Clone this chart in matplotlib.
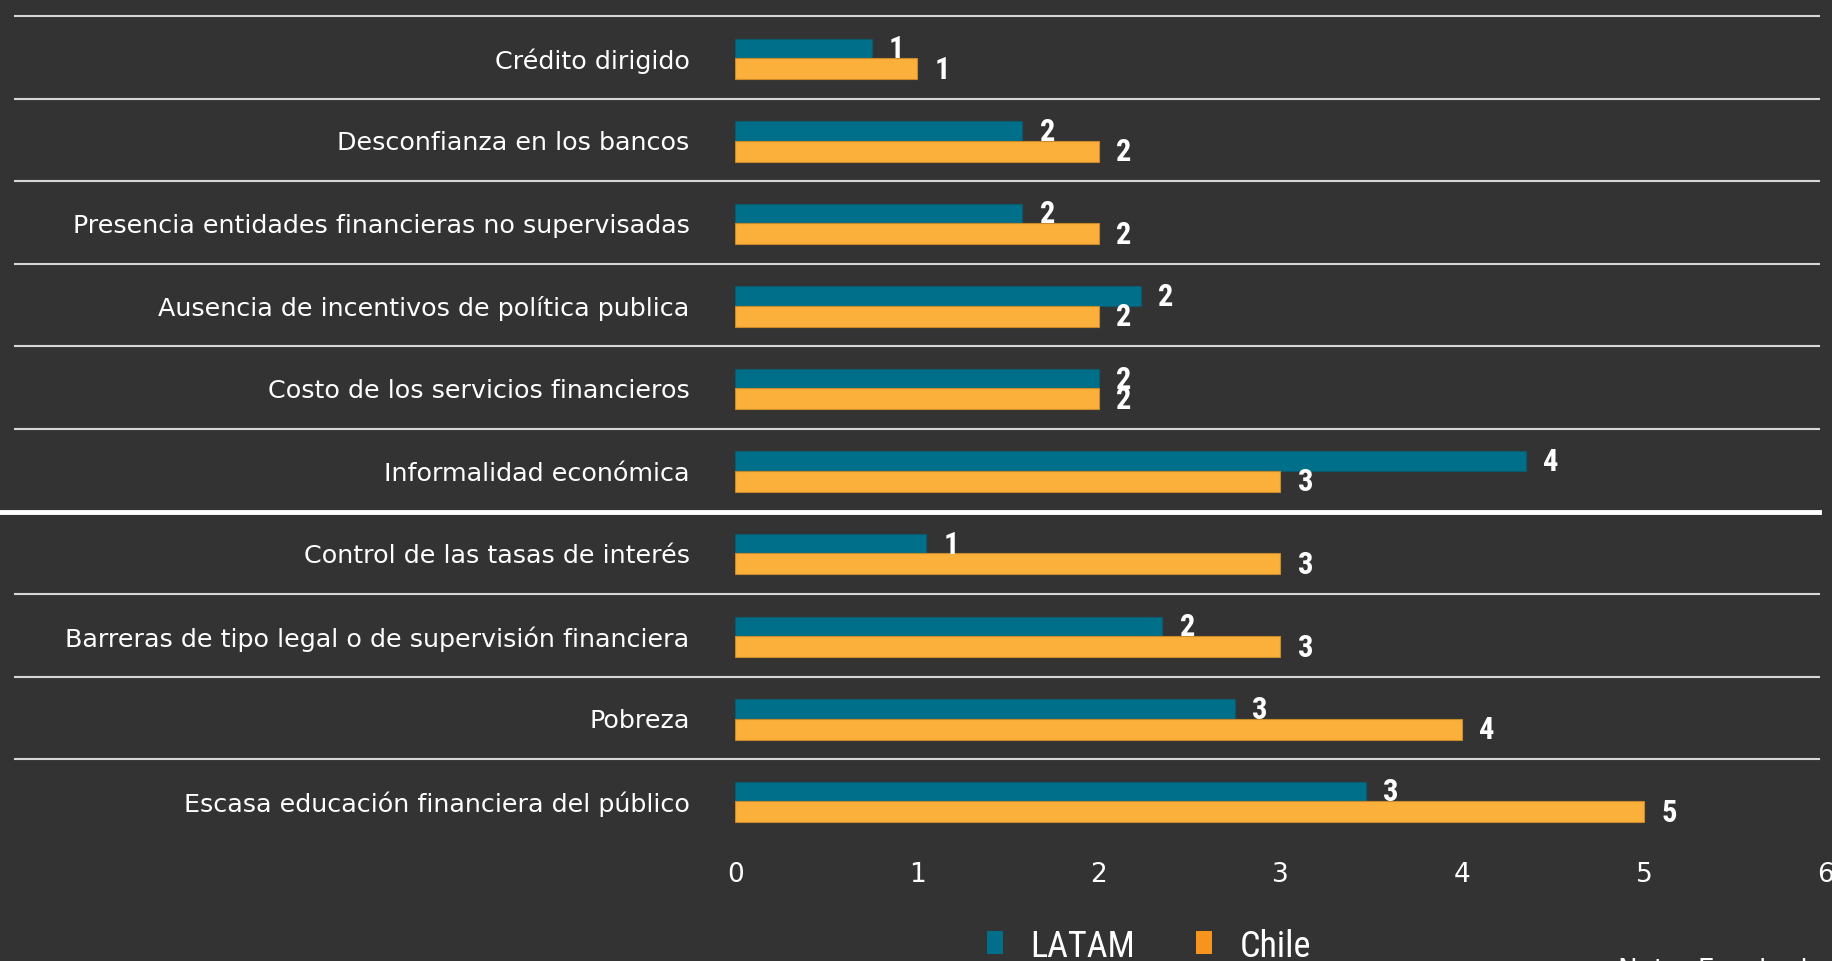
import matplotlib
matplotlib.use("Agg")
import matplotlib.pyplot as plt
import numpy as np
from matplotlib.patches import Patch
from matplotlib.transforms import blended_transform_factory
from matplotlib import font_manager

categories = [
    "Crédito dirigido",
    "Desconfianza en los bancos",
    "Presencia entidades financieras no supervisadas",
    "Ausencia de incentivos de política publica",
    "Costo de los servicios financieros",
    "Informalidad económica",
    "Control de las tasas de interés",
    "Barreras de tipo legal o de supervisión financiera",
    "Pobreza",
    "Escasa educación financiera del público",
]
latam = [0.75, 1.58, 1.58, 2.23, 2.0, 4.35, 1.05, 2.35, 2.75, 3.47]
chile = [1.0, 2.0, 2.0, 2.0, 2.0, 3.0, 3.0, 3.0, 4.0, 5.0]
series_names = ["LATAM", "Chile"]
xticks = [0, 1, 2, 3, 4, 5, 6]
note_text = "Nota: Escala de 1 a 6"

BG = "#333333"
C_LATAM = "#00708A"
C_CHILE = "#FBB03B"
C_CHILE_LEG = "#F7941D"

installed = {f.name for f in font_manager.fontManager.ttflist}
cands = ["Roboto Condensed", "Liberation Sans Narrow", "Open Sans Condensed", "Roboto", "DejaVu Sans"]
NARROW = [c for c in cands if c in installed] or ["DejaVu Sans"]

fig = plt.figure(figsize=(18.32, 9.62), dpi=100, facecolor=BG)
ax = fig.add_axes([0.4014, 0.1239, 0.5951, 0.8583])
ax.set_facecolor(BG)

y = np.arange(len(categories))
ax.barh(y - 0.11, latam, height=0.235, color=C_LATAM, edgecolor="#0a5a6e", linewidth=0.8)
ax.barh(y + 0.135, chile, height=0.255, color=C_CHILE, edgecolor="#c98a2a", linewidth=0.8)

for yi, v in zip(y - 0.11, latam):
    ax.annotate(f"{round(v):d}", (v, yi), xytext=(18, 0), textcoords="offset points",
                ha="center", va="center", color="white", fontsize=22,
                family=NARROW, fontweight="bold")
for yi, v in zip(y + 0.135, chile):
    ax.annotate(f"{round(v):d}", (v, yi), xytext=(18, 0), textcoords="offset points",
                ha="center", va="center", color="white", fontsize=22,
                family=NARROW, fontweight="bold")

ax.set_xlim(0, 6)
ax.set_ylim(len(categories) - 0.5, -0.5)
ax.set_xticks(xticks)
ax.set_xticklabels([str(t) for t in xticks])
ax.set_yticks(y)
ax.set_yticklabels(categories)
ax.tick_params(axis="y", length=0, pad=33, labelsize=18.3, labelcolor="white")
ax.tick_params(axis="x", length=0, pad=14, labelsize=19, labelcolor="white")
for s in ax.spines.values():
    s.set_visible(False)

# separator lines
tr = blended_transform_factory(fig.transFigure, ax.transData)
sep_positions = np.arange(-0.5, len(categories) - 1, 1.0)
for sp in sep_positions:
    if sp == 5.5:
        ax.plot([0.0, 0.993], [sp, sp], transform=tr, color="white", lw=3.5,
                clip_on=False, zorder=5)
    else:
        ax.plot([0.008, 0.993], [sp, sp], transform=tr, color="#d6d6d6", lw=1.5,
                clip_on=False, zorder=5)

handles = [Patch(facecolor=C_LATAM), Patch(facecolor=C_CHILE_LEG)]
leg = fig.legend(handles, series_names, loc="center", bbox_to_anchor=(0.627, 0.016),
                 ncol=2, frameon=False, handlelength=0.45, handleheight=0.6,
                 handletextpad=0.75, columnspacing=1.7,
                 prop={"family": NARROW, "size": 26})
for t in leg.get_texts():
    t.set_color("white")

fig.text(0.883, 0.004, note_text, ha="left", va="top", color="white", fontsize=19)

fig.savefig("out.png", dpi=100, facecolor=BG)
